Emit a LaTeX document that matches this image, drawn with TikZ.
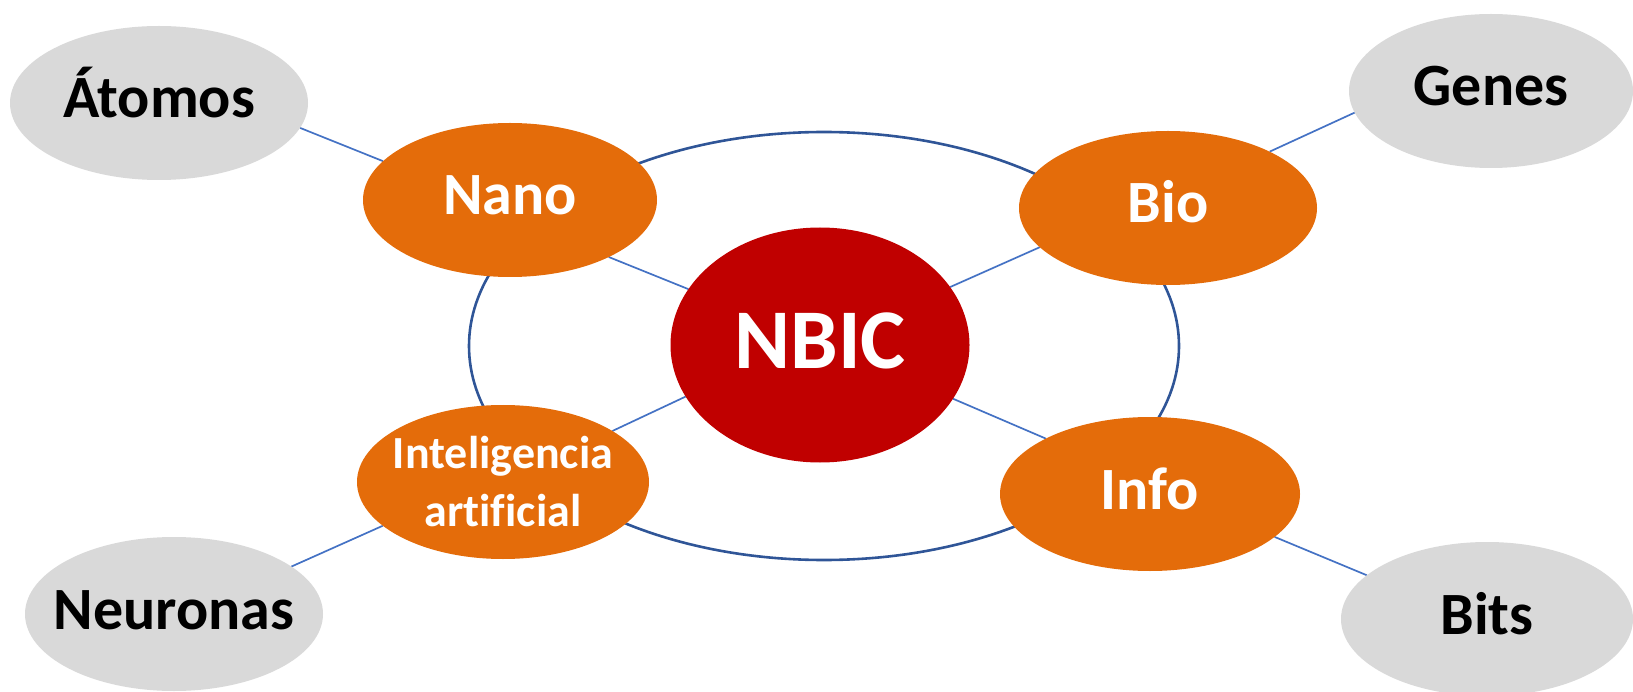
\documentclass[tikz,border=0pt]{standalone}
\usepackage{fontspec}
\setmainfont{Carlito}[Ligatures=NoCommon]
\usetikzlibrary{shapes.geometric,backgrounds}
\definecolor{orangefill}{HTML}{E46C0A}
\definecolor{redfill}{HTML}{C00000}
\definecolor{grayfill}{HTML}{D9D9D9}
\definecolor{connblue}{HTML}{4472C4}
\definecolor{ringblue}{HTML}{2F5597}
\tikzset{
  blob/.style={ellipse, inner xsep=-40pt, inner ysep=0pt, outer sep=0pt,
    font=\bfseries\fontsize{60}{72}\selectfont, text height=45pt, text depth=15pt},
  outerblob/.style={blob, fill=grayfill, text=black, minimum width=298pt, minimum height=154pt},
  midblob/.style={blob, fill=orangefill, text=white, minimum width=294pt, minimum height=154pt},
  coreblob/.style={blob, fill=redfill, text=white, minimum width=299pt, minimum height=235pt,
    font=\bfseries\fontsize{85}{100}\selectfont, text height=68pt, text depth=20pt},
  iablob/.style={ellipse, inner xsep=-40pt, inner ysep=0pt, outer sep=0pt,
    fill=orangefill, text=white, minimum width=292pt, minimum height=154pt,
    align=center, font=\bfseries\fontsize{46}{58}\selectfont},
  conn/.style={draw=connblue, line width=1.7pt},
  ringline/.style={ellipse, draw=ringblue, line width=2.6pt, inner sep=0pt,
    minimum width=710pt, minimum height=428pt}
}
\begin{document}
\begin{tikzpicture}[x=1pt,y=-1pt]
\useasboundingbox (0,0) rectangle (1633,692);
% outer nodes
\node[outerblob] (atomos) at (159,103) {Átomos};
\node[outerblob, minimum width=284pt] (genes) at (1491,91) {Genes};
\node[outerblob] (neuronas) at (174,614) {Neuronas};
\node[outerblob, minimum width=292pt] (bits) at (1487,619) {Bits};
% middle nodes
\node[midblob] (nano) at (510,200) {Nano};
\node[midblob, minimum width=298pt] (bio) at (1168,208) {Bio};
\node[iablob] (ia) at (503,482) {Inteligencia\\artificial};
\node[midblob, minimum width=300pt] (info) at (1150,494) {Info};
% core
\node[coreblob] (nbic) at (820,345) {NBIC};
\begin{pgfonlayer}{background}
  \node[ringline] (ring) at (824,346) {};
  \draw[conn] (atomos.-10.4) -- (nano.163.3);
  \draw[conn] (nano.-30.4) -- (nbic.157.9);
  \draw[conn] (nbic.24) -- (bio.197.5);
  \draw[conn] (bio.29) -- (genes.189.8);
  \draw[conn] (nbic.201.7) -- (ia.25.9);
  \draw[conn] (ia.200.9) -- (neuronas.22.1);
  \draw[conn] (nbic.-22.9) -- (info.152.2);
  \draw[conn] (info.-19.3) -- (bits.160.6);
\end{pgfonlayer}
\end{tikzpicture}
\end{document}
